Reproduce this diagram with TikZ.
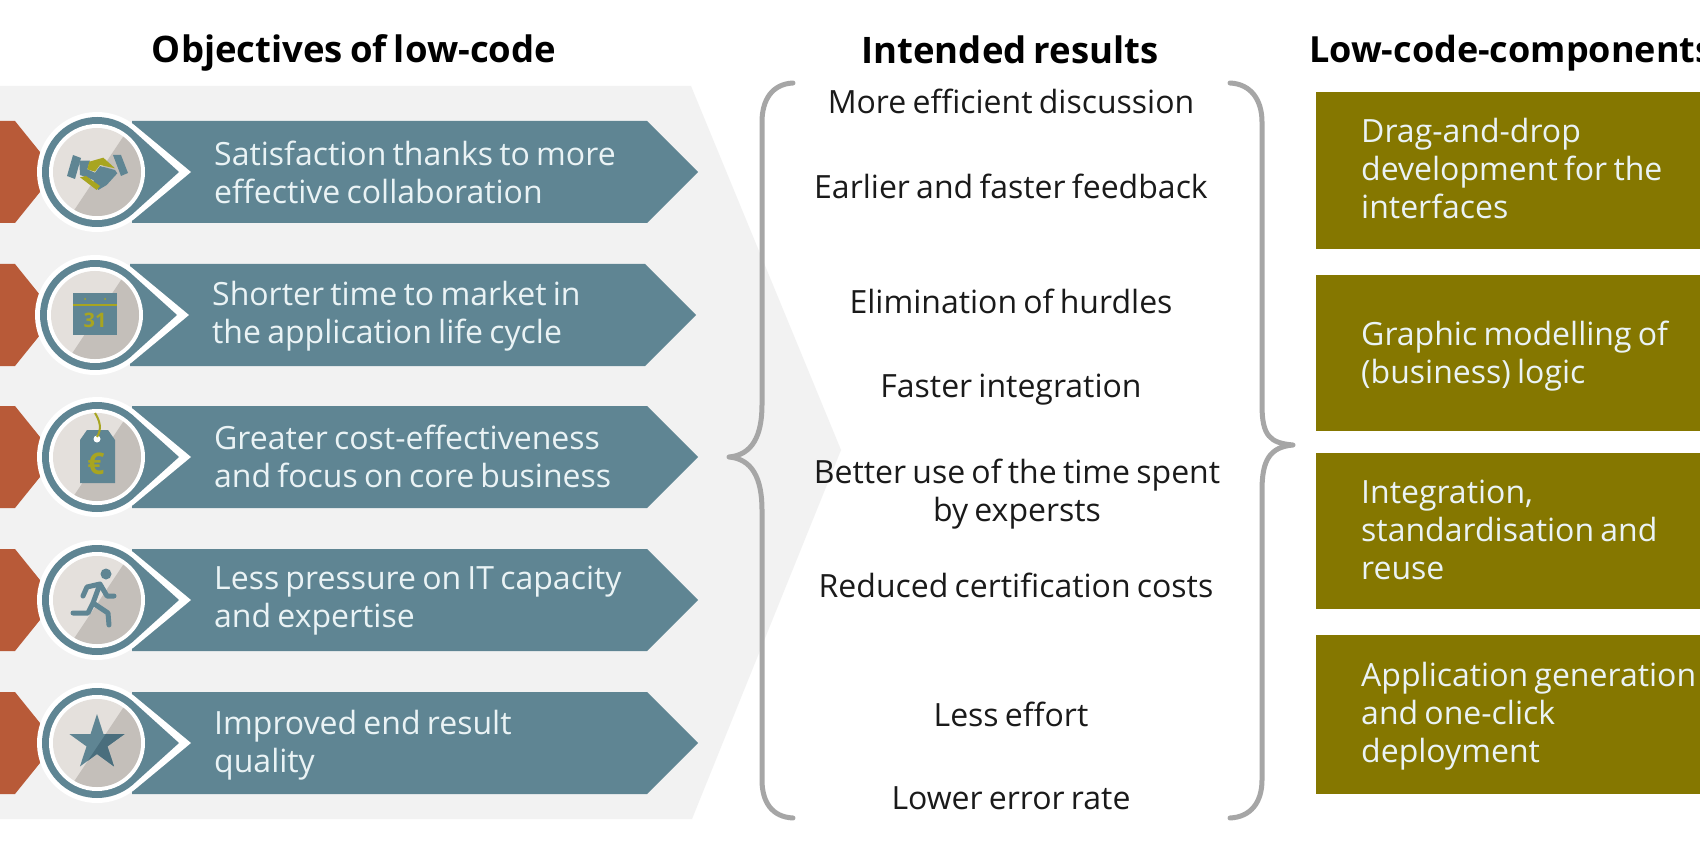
\documentclass[tikz,border=0pt]{standalone}
\usepackage{fontspec}
\setmainfont[WordSpace=0.75]{Open Sans}
\usetikzlibrary{calc}
\definecolor{teal}{HTML}{5F8593}
\definecolor{tealdark}{HTML}{4A6E7D}
\definecolor{rust}{HTML}{B85A38}
\definecolor{olivebox}{HTML}{857700}
\definecolor{iconolive}{HTML}{A8A520}
\definecolor{bggray}{HTML}{F2F2F2}
\definecolor{bracegray}{HTML}{A6A6A6}
\definecolor{disclight}{HTML}{E4E0DC}
\definecolor{discdark}{HTML}{C4BFBA}
\definecolor{ink}{HTML}{1A1A1A}
\definecolor{paletext}{HTML}{EAF3F5}
\tikzset{
  x=1pt,y=1pt,
  heading/.style={font=\fontsize{36.5}{44}\selectfont\bfseries,text=black,inner sep=0pt,anchor=center},
  rowtext/.style={font=\fontsize{32}{38}\selectfont,text=paletext,inner sep=0pt,anchor=west,align=left},
  resulttext/.style={font=\fontsize{32}{38}\selectfont,text=ink,inner sep=0pt,anchor=center,align=center},
  boxtext/.style={font=\fontsize{32}{38}\selectfont,text=paletext,inner sep=0pt,anchor=west,align=left},
  bracestroke/.style={draw=bracegray,line width=5pt,line cap=round,line join=round},
  oliveblock/.style={fill=olivebox,draw=none},
}
% #1 circle x, #2 centre y, #3 icon code
\newcommand{\objrow}[3]{%
  \fill[rust] (0,{-#2+51}) -- (15,{-#2+51}) -- (40,{-#2+20}) -- (40,{-#2-20}) -- (15,{-#2-51}) -- (0,{-#2-51}) -- cycle;
  \fill[teal] (#1+35,{-#2+51}) -- (#1+550,{-#2+51}) -- (#1+601,-#2) -- (#1+550,{-#2-51}) -- (#1+35,{-#2-51}) -- cycle;
  \begin{scope}[shift={(#1,-#2)}]
    \fill[white] (0,0) ++(52:60) arc (52:308:60) -- (94,0) -- cycle;
    \fill[teal] (0,0) ++(50:55) arc (50:310:55) -- (82,0) -- cycle;
    \fill[white] (0,0) circle (48);
    \fill[disclight] (0,0) circle (44);
    \begin{scope}
      \clip (0,0) circle (44);
      \fill[discdark] (28,38) -- (-24,-40) -- (60,-60) -- (60,60) -- cycle;
    \end{scope}
    #3
  \end{scope}
}
\begin{document}
\begin{tikzpicture}
\useasboundingbox (0,0) rectangle (1700,-850);
\clip (0,0) rectangle (1700,-850);
\fill[white] (0,0) rectangle (1700,-850);
\fill[bggray] (0,-86) -- (691,-86) -- (841,-450) -- (692,-819) -- (0,-819) -- cycle;

% headings
\node[heading] (h1) at (354,-53) {Objectives of low-code};
\node[heading] (h2) at (1010,-50) {Intended results};
\node[heading,anchor=west,font=\fontsize{36}{44}\selectfont\bfseries] (h3) at (1309,-53) {Low-code-components};

% row 1: handshake
\objrow{97}{172}{
  \fill[teal] (-30,-4) -- (-24,17) -- (-16,14) -- (-22,-7) -- cycle;
  \fill[teal] (16,17) -- (24,17) -- (31,-1) -- (24,-4) -- cycle;
  \fill[teal] (-17.7,11.3) -- (-7,11.3) -- (-9.7,2.7) -- (-2,-0.7) -- (3,6) -- (18,2) -- (20.3,-1.3) -- (9.7,-13) -- (1.3,-18) -- (-3.7,-8) -- (-17,-3) -- cycle;
  \fill[iconolive] (-7.7,10.3) -- (6.3,14.3) -- (18,3.7) -- (3,7) -- (-2,0.3) -- (-9.7,2.7) -- cycle;
  \fill[iconolive] (-17,-5.3) -- (-0.3,-18) -- (3,-14) -- (-11,-4) -- cycle;
}
% row 2: calendar
\objrow{95}{315}{
  \fill[teal] (-22,22) rectangle (22,-20);
  \draw[iconolive,line width=1.5pt] (-22,10) -- (22,10);
  \fill[iconolive] (-10,16) circle (1) (10,16) circle (1);
  \node[font=\fontsize{20}{20}\selectfont\bfseries,text=iconolive,inner sep=0pt] (cal) at (0,-5) {31};
}
% row 3: tag
\objrow{97}{457}{
  \fill[teal] (-17,-26) -- (18,-26) -- (18,17) -- (11,27) -- (-10,27) -- (-17,17) -- cycle;
  \fill[white] (0,18) circle (3.5);
  \draw[iconolive,line width=2pt] (0,20) .. controls (5,28) and (3,36) .. (-2,44);
  \node[font=\fontsize{30}{30}\selectfont\bfseries,text=iconolive,inner sep=0pt] (eur) at (-1,-7) {€};
}
% row 4: runner
\objrow{97}{600}{
  \fill[teal] (9,26) circle (5.5);
  \draw[teal,line width=5pt,line cap=round,line join=round]
    (3,16) -- (-4,-3) -- (11,-13) -- (12,-25)
    (-4,-3) -- (-9,-13) -- (-24,-13)
    (3,16) -- (10,4) -- (17,4)
    (3,16) -- (-10,13) -- (-14,4);
}
% row 5: star
\objrow{97}{743}{
  \fill[teal] (90:29) -- (126:11) -- (162:29) -- (198:11) -- (234:29) -- (270:11) -- (306:29) -- (342:11) -- (18:29) -- (54:11) -- cycle;
  \begin{scope}
    \clip (90:29) -- (126:11) -- (162:29) -- (198:11) -- (234:29) -- (270:11) -- (306:29) -- (342:11) -- (18:29) -- (54:11) -- cycle;
    \fill[tealdark] (28,38) -- (-24,-40) -- (60,-60) -- (60,60) -- cycle;
  \end{scope}
}

% objective texts
\node[rowtext] (o1) at (214,-172) {Satisfaction thanks to more\\effective collaboration};
\node[rowtext] (o2) at (212,-316) {Shorter time to market in\\the application life cycle};
\node[rowtext] (o3) at (214,-456) {Greater cost-effectiveness\\and focus on core business};
\node[rowtext] (o4) at (214,-601) {Less pressure on IT capacity\\and expertise};
\node[rowtext] (o5) at (214,-745) {Improved end result\\quality};

% braces
\draw[bracestroke] (793,-83) .. controls (772,-84) and (762,-100) .. (762,-122) -- (762,-405)
  .. controls (762,-436) and (752,-455) .. (729,-457)
  .. controls (752,-459) and (762,-478) .. (762,-510) -- (762,-780)
  .. controls (762,-802) and (772,-817) .. (793,-818);
\draw[bracestroke] (1230,-83) .. controls (1251,-84) and (1262,-100) .. (1262,-122) -- (1262,-405)
  .. controls (1262,-436) and (1270,-443) .. (1293,-445)
  .. controls (1270,-447) and (1262,-460) .. (1262,-490) -- (1262,-780)
  .. controls (1262,-802) and (1251,-817) .. (1230,-818);

% results
\node[resulttext] (r1) at (1011,-101) {More efficient discussion};
\node[resulttext] (r2) at (1011,-186) {Earlier and faster feedback};
\node[resulttext] (r3) at (1011,-301) {Elimination of hurdles};
\node[resulttext] (r4) at (1011,-390) {Faster integration};
\node[resulttext] (r5) at (1017,-494) {Better use of the time spent\\by expersts};
\node[resulttext] (r6) at (1016,-585) {Reduced certification costs};
\node[resulttext] (r7) at (1011,-714) {Less effort};
\node[resulttext] (r8) at (1011,-798) {Lower error rate};

% component boxes
\fill[oliveblock] (1316,-92) rectangle (1700,-249);
\fill[oliveblock] (1316,-275) rectangle (1700,-431);
\fill[oliveblock] (1316,-453) rectangle (1700,-609);
\fill[oliveblock] (1316,-635) rectangle (1700,-794);
\node[boxtext] (c1) at (1361,-169) {Drag-and-drop\\development for the\\interfaces};
\node[boxtext] (c2) at (1361,-356) {Graphic modelling of\\(business) logic};
\node[boxtext] (c3) at (1361,-530) {Integration,\\standardisation and\\reuse};
\node[boxtext] (c4) at (1361,-716) {Application generation\\and one-click\\deployment};
\end{tikzpicture}
\end{document}
